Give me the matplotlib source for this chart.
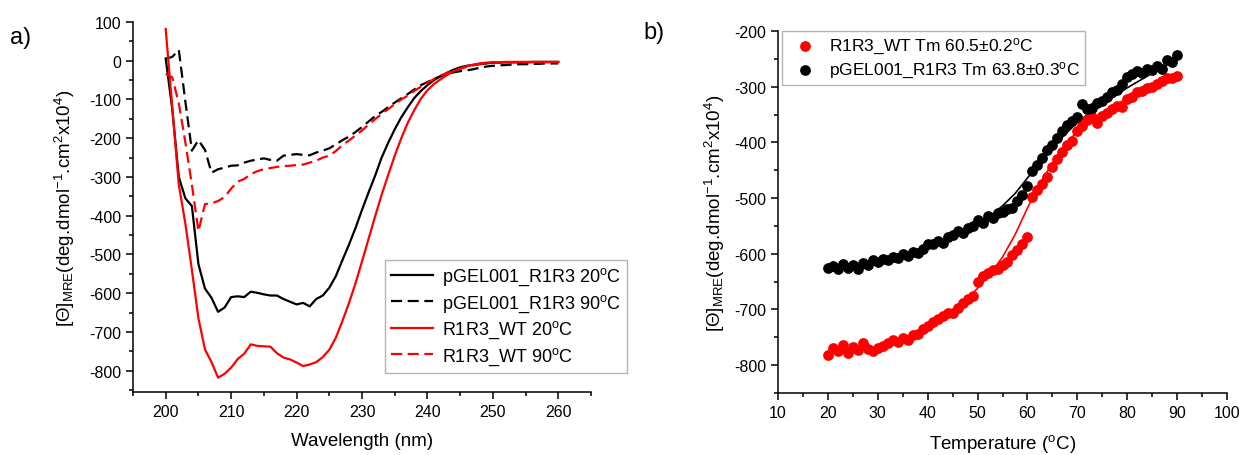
import numpy as np
import matplotlib
matplotlib.use('Agg')
import matplotlib.pyplot as plt
from matplotlib.ticker import MultipleLocator

plt.rcParams['font.family'] = ['Liberation Sans', 'DejaVu Sans']
plt.rcParams['mathtext.fontset'] = 'custom'
plt.rcParams['mathtext.rm'] = 'Liberation Sans'
plt.rcParams['mathtext.it'] = 'Liberation Sans:italic'
plt.rcParams['mathtext.bf'] = 'Liberation Sans:bold'
plt.rcParams['axes.unicode_minus'] = False

# panel a: CD spectra, 1 nm steps
wavelength = list(range(200, 261))
pgel_20 = [6, -125, -300, -355, -375, -525, -588, -612, -648, -637,
           -610, -608, -610, -596, -599, -603, -606, -606, -615, -622,
           -629, -625, -634, -615, -606, -586, -556, -515, -475, -432,
           -385, -340, -297, -250, -212, -177, -146, -120, -96, -78,
           -63, -50, -40, -31, -23, -17, -13, -11, -9, -7,
           -5, -5, -4, -4, -4, -4, -3, -3, -3, -3, -3]
pgel_90 = [5, 10, 28, -105, -232, -205, -230, -289, -280, -276,
           -271, -270, -263, -258, -255, -252, -256, -258, -245, -243,
           -241, -243, -244, -237, -232, -226, -216, -205, -196, -184,
           -171, -157, -143, -132, -120, -108, -97, -86, -74, -63,
           -55, -47, -40, -35, -30, -27, -25, -22, -18, -15,
           -13, -12, -11, -10, -9, -9, -8, -8, -7, -7, -7]
wt_20 = [82, -120, -320, -420, -540, -665, -745, -778, -818, -808,
         -792, -770, -756, -732, -736, -737, -738, -755, -766, -771,
         -779, -788, -784, -778, -765, -746, -715, -672, -626, -575,
         -518, -460, -402, -346, -295, -245, -200, -160, -127, -98,
         -76, -60, -48, -37, -27, -20, -14, -10, -7, -5,
         -4, -4, -3, -3, -3, -3, -3, -3, -3, -3, -3]
wt_90 = [-34, -43, -110, -210, -320, -440, -370, -368, -362, -352,
         -330, -312, -305, -293, -285, -280, -277, -274, -272, -271,
         -269, -268, -263, -258, -250, -245, -233, -218, -206, -193,
         -180, -165, -151, -137, -125, -112, -100, -90, -78, -67,
         -57, -47, -38, -32, -26, -21, -16, -12, -8, -6,
         -4, -4, -4, -4, -4, -4, -4, -4, -4, -4, -4]

# panel b: thermal melts, 1 C steps
temperature = list(range(20, 91))
wt_melt = [-781, -770, -774, -763, -779, -768, -772, -760, -771, -774,
           -770, -766, -761, -755, -758, -752, -754, -746, -744, -735,
           -730, -722, -717, -712, -706, -706, -697, -688, -682, -675,
           -650, -640, -635, -630, -628, -620, -615, -603, -593, -582,
           -570, -498, -485, -474, -462, -445, -430, -418, -404, -398,
           -380, -370, -360, -355, -366, -352, -348, -340, -334, -336,
           -322, -318, -310, -308, -303, -300, -295, -289, -285, -284, -280]
pgel_melt = [-625, -622, -628, -619, -626, -621, -627, -617, -620, -612,
             -615, -609, -611, -605, -608, -600, -604, -597, -599, -591,
             -582, -583, -577, -580, -570, -566, -560, -562, -553, -550,
             -540, -544, -532, -536, -527, -525, -519, -517, -505, -495,
             -478, -452, -440, -428, -414, -405, -392, -380, -368, -362,
             -354, -331, -340, -338, -330, -325, -318, -310, -306, -296,
             -283, -277, -272, -276, -268, -270, -262, -268, -252, -255, -243]
fit_temp = [20, 25, 30, 35, 40, 45, 50, 52.5, 55, 57.5, 60, 62.5, 65,
            67.5, 70, 72.5, 75, 77.5, 80, 85, 90]
wt_fit = [-778, -774, -767, -755, -736, -706, -662, -636, -606, -566,
          -518, -474, -437, -405, -380, -361, -346, -333, -321, -302, -288]
pgel_fit = [-626, -621, -613, -602, -588, -570, -546, -532, -514, -492,
            -464, -436, -410, -386, -364, -347, -332, -317, -302, -276, -251]

fig = plt.figure(figsize=(12.45, 4.56), dpi=100)
ax1 = fig.add_axes([133/1245, 1-393/456, 458/1245, 370/456])
ax2 = fig.add_axes([778/1245, 1-394/456, 449/1245, 362/456])

ls_dash = (0, (5, 2.5))
ax1.plot(wavelength, pgel_20, color='black', lw=1.6, label=r'pGEL001_R1R3 20$^{\mathrm{o}}$C')
ax1.plot(wavelength, pgel_90, color='black', lw=1.6, ls=ls_dash, label=r'pGEL001_R1R3 90$^{\mathrm{o}}$C')
ax1.plot(wavelength, wt_20, color='#ff0000', lw=1.6, label=r'R1R3_WT 20$^{\mathrm{o}}$C')
ax1.plot(wavelength, wt_90, color='#ff0000', lw=1.6, ls=ls_dash, label=r'R1R3_WT 90$^{\mathrm{o}}$C')
ax1.set_xlim(195, 265)
ax1.set_ylim(-855, 100)
ax1.xaxis.set_major_locator(MultipleLocator(10))
ax1.xaxis.set_minor_locator(MultipleLocator(5))
ax1.yaxis.set_major_locator(MultipleLocator(100))
ax1.yaxis.set_minor_locator(MultipleLocator(50))
ax1.set_xlabel('Wavelength (nm)', fontsize=13.5)
ax1.set_ylabel(r'[$\Theta$]$_{\mathrm{MRE}}$(deg.dmol$^{-1}$.cm$^{2}$x10$^{4}$)', fontsize=13.5)
ax1.xaxis.set_label_coords(0.5, -0.108)
ax1.yaxis.set_label_coords(-0.122, 0.5)
ax1.legend(loc='lower right', bbox_to_anchor=(627/1245, 1-374/456), bbox_transform=fig.transFigure,
           borderaxespad=0, fontsize=13, fancybox=False, edgecolor='#a0a0a0', handlelength=2.3,
           labelspacing=0.28, borderpad=0.35, handletextpad=0.5)

ax2.plot(fit_temp, wt_fit, color='#ff0000', lw=1.2, zorder=1)
ax2.plot(fit_temp, pgel_fit, color='black', lw=1.2, zorder=1)
ax2.scatter(temperature, wt_melt, s=45, color='#ff0000', zorder=2,
            label=r'R1R3_WT Tm 60.5$\pm$0.2$^{\mathrm{o}}$C')
ax2.scatter(temperature, pgel_melt, s=45, color='black', zorder=3,
            label=r'pGEL001_R1R3 Tm 63.8$\pm$0.3$^{\mathrm{o}}$C')
ax2.set_xlim(10, 100)
ax2.set_ylim(-850, -200)
ax2.xaxis.set_major_locator(MultipleLocator(10))
ax2.xaxis.set_minor_locator(MultipleLocator(5))
ax2.yaxis.set_major_locator(MultipleLocator(100))
ax2.yaxis.set_minor_locator(MultipleLocator(50))
ax2.set_xlabel(r'Temperature ($^{\mathrm{o}}$C)', fontsize=13.5)
ax2.set_ylabel(r'[$\Theta$]$_{\mathrm{MRE}}$(deg.dmol$^{-1}$.cm$^{2}$x10$^{4}$)', fontsize=13.5)
ax2.xaxis.set_label_coords(0.5, -0.108)
ax2.yaxis.set_label_coords(-0.114, 0.5)
ax2.legend(loc='upper left', bbox_to_anchor=(782/1245, 1-32/456), bbox_transform=fig.transFigure,
           borderaxespad=0, fontsize=12.5, fancybox=False, edgecolor='#a0a0a0',
           labelspacing=0.2, borderpad=0.3, handletextpad=0.4, scatterpoints=1)

for ax in (ax1, ax2):
    for side in ('top', 'right'):
        ax.spines[side].set_visible(False)
    for side in ('left', 'bottom'):
        ax.spines[side].set_linewidth(1.1)
    ax.tick_params(which='major', direction='out', length=5, width=1.1, labelsize=11.5)
    ax.tick_params(which='minor', direction='out', length=3, width=1.1)

fig.text(10/1245, 1-38/456, 'a)', fontsize=17, va='center')
fig.text(643/1245, 1-33/456, 'b)', fontsize=17, va='center')

fig.savefig('out.png', dpi=100)
